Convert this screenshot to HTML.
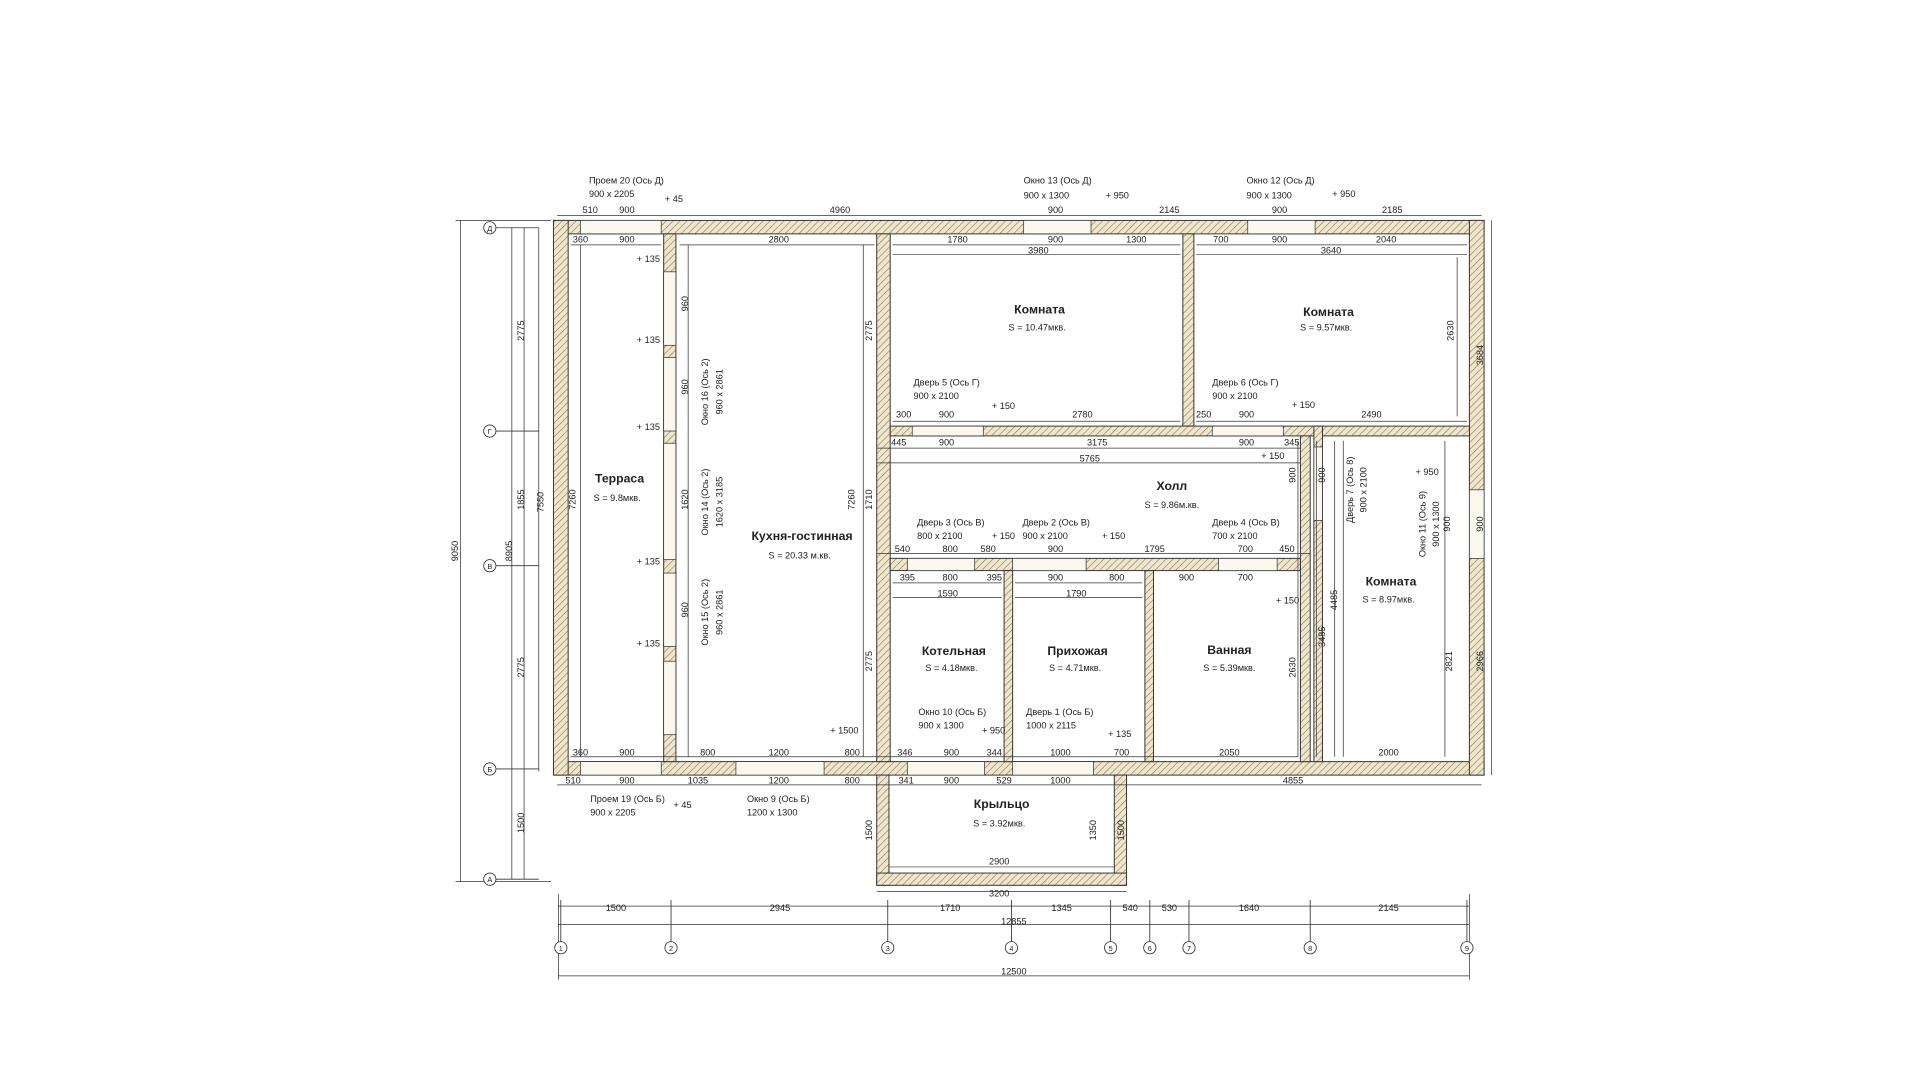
<!DOCTYPE html>
<html><head><meta charset="utf-8"><style>
html,body{margin:0;padding:0;background:#fff;width:1920px;height:1080px;overflow:hidden}
svg{display:block}
text{font-family:"Liberation Sans",sans-serif;fill:#222}
.s{font-size:7.5px}
.t{font-size:10px;font-weight:bold}
.a{font-size:8px}
</style></head><body>
<svg width="1920" height="1080" viewBox="0 0 1568 882" xmlns="http://www.w3.org/2000/svg">
<defs>
<pattern id="h" width="4" height="4" patternUnits="userSpaceOnUse" patternTransform="rotate(45)">
<rect width="4" height="4" fill="#efe6cc"/><line x1="0" y1="0" x2="0" y2="4" stroke="#8a7a55" stroke-width="1"/>
</pattern>
</defs>
<g fill="url(#h)" stroke="#333" stroke-width="0.8">
<!-- outer walls -->
<rect x="452" y="180" width="760" height="11"/>
<rect x="452" y="622" width="760" height="11"/>
<rect x="452" y="180" width="12" height="453"/>
<rect x="1200" y="180" width="12" height="453"/>
<!-- terrace partition -->
<rect x="542" y="191" width="10" height="431"/>
<!-- kitchen right wall -->
<rect x="716" y="191" width="11" height="431"/>
<!-- room divider top -->
<rect x="966" y="191" width="9" height="157"/>
<rect x="727" y="348" width="353" height="8"/>
<rect x="1080" y="348" width="120" height="8"/>
<!-- right inner walls -->
<rect x="1062" y="356" width="8" height="266"/>
<rect x="1073" y="348" width="7" height="274"/>
<!-- corridor bottom -->
<rect x="727" y="456" width="335" height="10"/>
<rect x="820" y="466" width="7" height="156"/>
<rect x="935" y="466" width="7" height="156"/>
<!-- porch -->
<rect x="716" y="633" width="10" height="90"/>
<rect x="910" y="633" width="10" height="90"/>
<rect x="716" y="713" width="204" height="10"/>
</g>
<!-- openings (white gaps with thin lines) -->
<g fill="#fbf8ee" stroke="#333" stroke-width="0.6">
<rect x="474" y="180" width="66" height="11"/>
<rect x="836" y="180" width="55" height="11"/>
<rect x="1019" y="180" width="55" height="11"/>
<rect x="474" y="622" width="66" height="11"/>
<rect x="601" y="622" width="72" height="11"/>
<rect x="741" y="622" width="63" height="11"/>
<rect x="827" y="622" width="66" height="11"/>
<rect x="542" y="222" width="10" height="60"/>
<rect x="542" y="292" width="10" height="60"/>
<rect x="542" y="362" width="10" height="95"/>
<rect x="542" y="468" width="10" height="60"/>
<rect x="542" y="540" width="10" height="60"/>
<rect x="1200" y="400" width="12" height="56"/>
<rect x="745" y="348" width="58" height="8"/>
<rect x="990" y="348" width="58" height="8"/>
<rect x="1073" y="365" width="7" height="60"/>
<rect x="741" y="456" width="55" height="10"/>
<rect x="827" y="456" width="60" height="10"/>
<rect x="995" y="456" width="48" height="10"/>
</g>
<!-- dimension lines -->
<g stroke="#333" stroke-width="0.6" fill="none">
<line x1="455" y1="176" x2="1210" y2="176"/>
<line x1="466" y1="200" x2="540" y2="200"/>
<line x1="555" y1="200" x2="714" y2="200"/>
<line x1="729" y1="200" x2="964" y2="200"/>
<line x1="977" y1="200" x2="1198" y2="200"/>
<line x1="729" y1="208" x2="964" y2="208"/>
<line x1="977" y1="208" x2="1198" y2="208"/>
<line x1="729" y1="344" x2="964" y2="344"/>
<line x1="977" y1="344" x2="1198" y2="344"/>
<line x1="716" y1="366" x2="1062" y2="366"/>
<line x1="716" y1="378" x2="1062" y2="378"/>
<line x1="716" y1="452" x2="1070" y2="452"/>
<line x1="729" y1="476" x2="818" y2="476"/>
<line x1="829" y1="476" x2="933" y2="476"/>
<line x1="729" y1="488" x2="818" y2="488"/>
<line x1="829" y1="488" x2="933" y2="488"/>
<line x1="466" y1="618" x2="1060" y2="618"/>
<line x1="455" y1="641" x2="1210" y2="641"/>
<line x1="726" y1="708" x2="910" y2="708"/>
<line x1="716" y1="728" x2="920" y2="728"/>
<line x1="456" y1="740" x2="1200" y2="740"/>
<line x1="456" y1="755" x2="1200" y2="755"/>
<line x1="456" y1="797" x2="1200" y2="797"/>
<line x1="456" y1="730" x2="456" y2="800"/>
<line x1="1200" y1="730" x2="1200" y2="800"/>
<line x1="376" y1="180" x2="376" y2="720"/>
<line x1="418" y1="186" x2="418" y2="718"/>
<line x1="428" y1="186" x2="428" y2="718"/>
<line x1="440" y1="186" x2="440" y2="630"/>
<line x1="372" y1="180" x2="450" y2="180"/>
<line x1="372" y1="720" x2="450" y2="720"/>
<line x1="705" y1="200" x2="705" y2="618"/>
<line x1="562" y1="200" x2="562" y2="618"/>
<line x1="474" y1="200" x2="474" y2="618"/>
<line x1="1090" y1="360" x2="1090" y2="618"/>
<line x1="1097" y1="360" x2="1097" y2="618"/>
<line x1="1190" y1="210" x2="1190" y2="340"/>
<line x1="1218" y1="180" x2="1218" y2="633"/>
<line x1="1060" y1="360" x2="1060" y2="618"/>
<line x1="1180" y1="360" x2="1180" y2="618"/>
<line x1="1075" y1="360" x2="1075" y2="618"/>
</g>
<!-- axis markers left -->
<g stroke="#333" stroke-width="0.7" fill="#fff">
<line x1="405" y1="186" x2="440" y2="186"/><line x1="405" y1="352" x2="440" y2="352"/>
<line x1="405" y1="462" x2="440" y2="462"/><line x1="405" y1="628" x2="440" y2="628"/>
<line x1="405" y1="718" x2="440" y2="718"/>
<circle cx="400" cy="186" r="5"/><circle cx="400" cy="352" r="5"/><circle cx="400" cy="462" r="5"/><circle cx="400" cy="628" r="5"/><circle cx="400" cy="718" r="5"/>
<g>
<line x1="458" y1="735" x2="458" y2="769"/><line x1="548" y1="735" x2="548" y2="769"/><line x1="725" y1="735" x2="725" y2="769"/><line x1="826" y1="735" x2="826" y2="769"/><line x1="907" y1="735" x2="907" y2="769"/><line x1="939" y1="735" x2="939" y2="769"/><line x1="971" y1="735" x2="971" y2="769"/><line x1="1070" y1="735" x2="1070" y2="769"/><line x1="1198" y1="735" x2="1198" y2="769"/>
</g>
<circle cx="458" cy="774" r="5"/><circle cx="548" cy="774" r="5"/><circle cx="725" cy="774" r="5"/><circle cx="826" cy="774" r="5"/><circle cx="907" cy="774" r="5"/><circle cx="939" cy="774" r="5"/><circle cx="971" cy="774" r="5"/><circle cx="1070" cy="774" r="5"/><circle cx="1198" cy="774" r="5"/>
</g>
<g class="s" text-anchor="middle" font-size="6">
<text x="400" y="188.5" font-size="6">Д</text><text x="400" y="354.5" font-size="6">Г</text><text x="400" y="464.5" font-size="6">В</text><text x="400" y="630.5" font-size="6">Б</text><text x="400" y="720.5" font-size="6">А</text>
<text x="458" y="776.5" font-size="6">1</text><text x="548" y="776.5" font-size="6">2</text><text x="725" y="776.5" font-size="6">3</text><text x="826" y="776.5" font-size="6">4</text><text x="907" y="776.5" font-size="6">5</text><text x="939" y="776.5" font-size="6">6</text><text x="971" y="776.5" font-size="6">7</text><text x="1070" y="776.5" font-size="6">8</text><text x="1198" y="776.5" font-size="6">9</text>
</g>
<!-- room labels -->
<g text-anchor="middle">
<text class="t" x="506" y="394">Терраса</text><text class="s" x="504" y="409">S = 9.8мкв.</text>
<text class="t" x="655" y="441">Кухня-гостинная</text><text class="s" x="653" y="456">S = 20.33 м.кв.</text>
<text class="t" x="849" y="256">Комната</text><text class="s" x="847" y="270">S = 10.47мкв.</text>
<text class="t" x="1085" y="258">Комната</text><text class="s" x="1083" y="270">S = 9.57мкв.</text>
<text class="t" x="957" y="400">Холл</text><text class="s" x="957" y="415">S = 9.86м.кв.</text>
<text class="t" x="779" y="535">Котельная</text><text class="s" x="777" y="548">S = 4.18мкв.</text>
<text class="t" x="880" y="535">Прихожая</text><text class="s" x="878" y="548">S = 4.71мкв.</text>
<text class="t" x="1004" y="534">Ванная</text><text class="s" x="1004" y="548">S = 5.39мкв.</text>
<text class="t" x="1136" y="478">Комната</text><text class="s" x="1134" y="492">S = 8.97мкв.</text>
<text class="t" x="818" y="660">Крыльцо</text><text class="s" x="816" y="675">S = 3.92мкв.</text>
</g>
<!-- annotations -->
<g class="s">
<text x="481" y="150">Проем 20 (Ось Д)</text><text x="481" y="161">900 x 2205</text>
<text x="836" y="150">Окно 13 (Ось Д)</text><text x="836" y="162">900 x 1300</text>
<text x="1018" y="150">Окно 12 (Ось Д)</text><text x="1018" y="162">900 x 1300</text>
<text x="746" y="315">Дверь 5 (Ось Г)</text><text x="746" y="326">900 x 2100</text>
<text x="990" y="315">Дверь 6 (Ось Г)</text><text x="990" y="326">900 x 2100</text>
<text x="749" y="429">Дверь 3 (Ось В)</text><text x="749" y="440">800 x 2100</text>
<text x="835" y="429">Дверь 2 (Ось В)</text><text x="835" y="440">900 x 2100</text>
<text x="990" y="429">Дверь 4 (Ось В)</text><text x="990" y="440">700 x 2100</text>
<text x="750" y="584">Окно 10 (Ось Б)</text><text x="750" y="595">900 x 1300</text>
<text x="838" y="584">Дверь 1 (Ось Б)</text><text x="838" y="595">1000 x 2115</text>
<text x="482" y="655">Проем 19 (Ось Б)</text><text x="482" y="666">900 x 2205</text>
<text x="610" y="655">Окно 9 (Ось Б)</text><text x="610" y="666">1200 x 1300</text>
<text x="543" y="165">+ 45</text><text x="903" y="162">+ 950</text><text x="1088" y="161">+ 950</text>
<text x="810" y="334">+ 150</text><text x="1055" y="333">+ 150</text><text x="1030" y="375">+ 150</text>
<text x="810" y="440">+ 150</text><text x="900" y="440">+ 150</text><text x="1042" y="493">+ 150</text>
<text x="802" y="599">+ 950</text><text x="905" y="602">+ 135</text><text x="678" y="599">+ 1500</text>
<text x="550" y="660">+ 45</text><text x="1156" y="388">+ 950</text>
<text x="520" y="214">+ 135</text><text x="520" y="280">+ 135</text><text x="520" y="351">+ 135</text><text x="520" y="461">+ 135</text><text x="520" y="528">+ 135</text>
</g>
<!-- dimension numbers -->
<g class="s" text-anchor="middle">
<text x="482" y="174">510</text><text x="512" y="174">900</text><text x="686" y="174">4960</text><text x="862" y="174">900</text><text x="955" y="174">2145</text><text x="1045" y="174">900</text><text x="1137" y="174">2185</text>
<text x="474" y="198">360</text><text x="512" y="198">900</text><text x="636" y="198">2800</text><text x="782" y="198">1780</text><text x="862" y="198">900</text><text x="928" y="198">1300</text><text x="997" y="198">700</text><text x="1045" y="198">900</text><text x="1132" y="198">2040</text>
<text x="848" y="207">3980</text><text x="1087" y="207">3640</text>
<text x="738" y="341">300</text><text x="773" y="341">900</text><text x="884" y="341">2780</text><text x="983" y="341">250</text><text x="1018" y="341">900</text><text x="1120" y="341">2490</text>
<text x="734" y="364">445</text><text x="773" y="364">900</text><text x="896" y="364">3175</text><text x="1018" y="364">900</text><text x="1055" y="364">345</text>
<text x="890" y="377">5765</text>
<text x="737" y="451">540</text><text x="776" y="451">800</text><text x="807" y="451">580</text><text x="862" y="451">900</text><text x="943" y="451">1795</text><text x="1017" y="451">700</text><text x="1051" y="451">450</text>
<text x="741" y="474">395</text><text x="776" y="474">800</text><text x="812" y="474">395</text><text x="862" y="474">900</text><text x="912" y="474">800</text><text x="969" y="474">900</text><text x="1017" y="474">700</text>
<text x="774" y="487">1590</text><text x="879" y="487">1790</text>
<text x="474" y="617">360</text><text x="512" y="617">900</text><text x="578" y="617">800</text><text x="636" y="617">1200</text><text x="696" y="617">800</text>
<text x="739" y="617">346</text><text x="777" y="617">900</text><text x="812" y="617">344</text><text x="866" y="617">1000</text><text x="916" y="617">700</text><text x="1004" y="617">2050</text><text x="1134" y="617">2000</text>
<text x="468" y="640">510</text><text x="512" y="640">900</text><text x="570" y="640">1035</text><text x="636" y="640">1200</text><text x="696" y="640">800</text>
<text x="740" y="640">341</text><text x="777" y="640">900</text><text x="820" y="640">529</text><text x="866" y="640">1000</text><text x="1056" y="640">4855</text>
<text x="816" y="706">2900</text><text x="816" y="732">3200</text>
<text x="503" y="744">1500</text><text x="637" y="744">2945</text><text x="776" y="744">1710</text><text x="867" y="744">1345</text><text x="923" y="744">540</text><text x="955" y="744">530</text><text x="1020" y="744">1640</text><text x="1134" y="744">2145</text>
<text x="828" y="755">12855</text><text x="828" y="796">12500</text>
</g>
<g class="s" text-anchor="middle">
<text transform="translate(428,270) rotate(-90)">2775</text>
<text transform="translate(428,408) rotate(-90)">1855</text>
<text transform="translate(428,545) rotate(-90)">2775</text>
<text transform="translate(428,672) rotate(-90)">1500</text>
<text transform="translate(418,450) rotate(-90)">8905</text>
<text transform="translate(444,410) rotate(-90)">7550</text>
<text transform="translate(374,450) rotate(-90)">9050</text>
<text transform="translate(470,408) rotate(-90)">7260</text>
<text transform="translate(698,408) rotate(-90)">7260</text>
<text transform="translate(712,408) rotate(-90)">1710</text>
<text transform="translate(712,270) rotate(-90)">2775</text>
<text transform="translate(712,540) rotate(-90)">2775</text>
<text transform="translate(562,248) rotate(-90)">960</text>
<text transform="translate(562,316) rotate(-90)">960</text>
<text transform="translate(562,408) rotate(-90)">1620</text>
<text transform="translate(562,498) rotate(-90)">960</text>
<text transform="translate(578,320) rotate(-90)">Окно 16 (Ось 2)</text>
<text transform="translate(590,320) rotate(-90)">960 x 2861</text>
<text transform="translate(578,410) rotate(-90)">Окно 14 (Ось 2)</text>
<text transform="translate(590,410) rotate(-90)">1620 x 3185</text>
<text transform="translate(578,500) rotate(-90)">Окно 15 (Ось 2)</text>
<text transform="translate(590,500) rotate(-90)">960 x 2861</text>
<text transform="translate(1187,270) rotate(-90)">2630</text>
<text transform="translate(1211,290) rotate(-90)">3684</text>
<text transform="translate(1058,545) rotate(-90)">2630</text>
<text transform="translate(1082,520) rotate(-90)">3485</text>
<text transform="translate(1092,490) rotate(-90)">4485</text>
<text transform="translate(1186,540) rotate(-90)">2821</text>
<text transform="translate(1211,540) rotate(-90)">2966</text>
<text transform="translate(1184,428) rotate(-90)">900</text>
<text transform="translate(1211,428) rotate(-90)">900</text>
<text transform="translate(1058,388) rotate(-90)">900</text>
<text transform="translate(1082,388) rotate(-90)">900</text>
<text transform="translate(1105,400) rotate(-90)">Дверь 7 (Ось 8)</text>
<text transform="translate(1116,400) rotate(-90)">900 x 2100</text>
<text transform="translate(1164,428) rotate(-90)">Окно 11 (Ось 9)</text>
<text transform="translate(1175,428) rotate(-90)">900 x 1300</text>
<text transform="translate(712,678) rotate(-90)">1500</text>
<text transform="translate(895,678) rotate(-90)">1350</text>
<text transform="translate(918,678) rotate(-90)">1500</text>
</g>
</svg>
</body></html>
